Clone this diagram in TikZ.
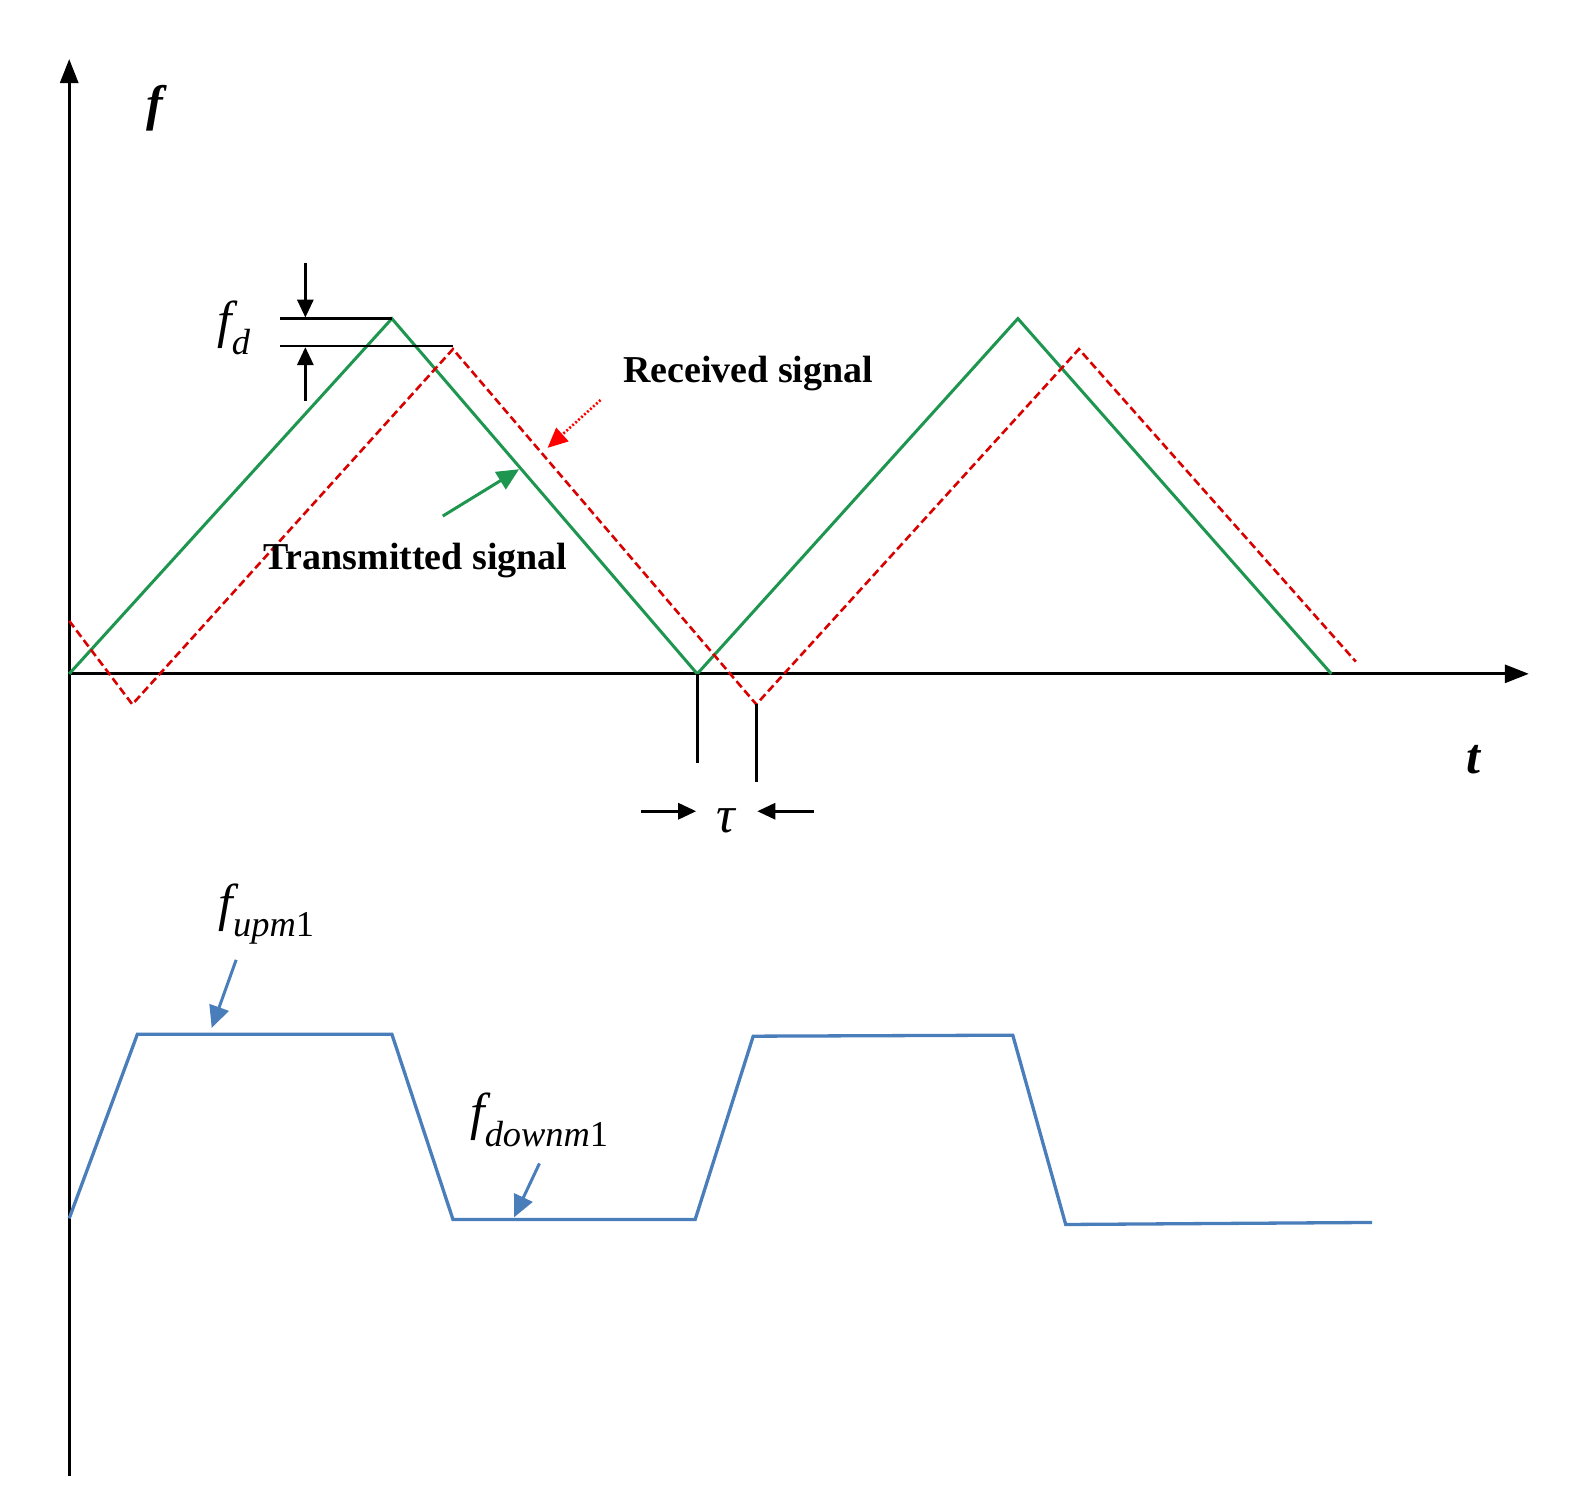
\documentclass[tikz,border=0pt]{standalone}
\usepackage{fontspec}
\setmainfont{Liberation Serif}
\usetikzlibrary{arrows.meta}
\definecolor{grn}{RGB}{30,150,80}
\definecolor{blu}{RGB}{74,126,187}
\begin{document}
\begin{tikzpicture}[x=1.018pt,y=-1.018pt,
  ax/.style={line width=3pt,-{Triangle[length=24pt,width=18pt]}},
  tx/.style={grn,line width=3pt},
  rx/.style={red!85!black,line width=2.6pt,dash pattern=on 8pt off 4pt},
  bl/.style={blu,line width=3.3pt},
  blk/.style={line width=2.8pt},
  arr/.style={line width=3pt,-{Triangle[length=18pt,width=16pt]}},
  lbl/.style={font=\fontsize{38}{44}\selectfont\bfseries},
  ml/.style={font=\fontsize{52}{54}\selectfont\itshape}]
\useasboundingbox (0,0) rectangle (1568,1477);
\coordinate (o) at (68,662);
\coordinate (ytop) at (68,58);
\coordinate (ybot) at (68,1450);
\coordinate (xend) at (1502,662);
\draw[ax] (ybot) -- (ytop);
\draw[ax] (o) -- (xend);
\node[font=\fontsize{50}{52}\selectfont\bfseries\itshape] (fl) at (152,106) {f};
\node[font=\fontsize{50}{52}\selectfont\bfseries\itshape] (tl) at (1448,746) {t};
\draw[tx] (68,662) -- (385,313) -- (685,662) -- (1000,313) -- (1308,662);
\draw[rx] (68,610) -- (130,692) -- (445,343) -- (743,692) -- (1060,343) -- (1332,650);
\coordinate (a1) at (275,313); \coordinate (a2) at (385,313);
\coordinate (b1) at (275,340); \coordinate (b2) at (445,340);
\draw[blk] (a1) -- (a2); \draw[blk] (b1) -- (b2);
\coordinate (fa) at (300,258); \coordinate (fa2) at (300,312);
\coordinate (fb) at (300,394); \coordinate (fb2) at (300,341);
\draw[arr] (fa) -- (fa2); \draw[arr] (fb) -- (fb2);
\node[ml] (fd) at (230,322) {f\textsubscript{d}};
\coordinate (t1) at (685,662); \coordinate (t1b) at (685,750);
\coordinate (t2) at (743,692); \coordinate (t2b) at (743,768);
\draw[blk] (t1) -- (t1b); \draw[blk] (t2) -- (t2b);
\coordinate (ta) at (630,797); \coordinate (ta2) at (684,797);
\coordinate (tb) at (800,797); \coordinate (tb2) at (744,797);
\draw[arr] (ta) -- (ta2); \draw[arr] (tb) -- (tb2);
\node[ml] (tau) at (713,806) {τ};
\node[lbl] (rs) at (735,367) {Received signal};
\coordinate (r1) at (590,393); \coordinate (r2) at (538,440);
\draw[red,line width=2.6pt,dash pattern=on 2pt off 2pt,-{Triangle[length=20pt,width=18pt]}] (r1) -- (r2);
\node[lbl] (ts) at (408,551) {Transmitted signal};
\coordinate (g1) at (435,507); \coordinate (g2) at (510,461);
\draw[grn,line width=3pt,-{Triangle[length=22pt,width=20pt]}] (g1) -- (g2);
\draw[bl] (68,1197) -- (135,1016) -- (385,1016) -- (445,1198) -- (683,1198) -- (740,1018) -- (995,1017) -- (1047,1203) -- (1348,1201);
\node[ml] (fu) at (262,898) {f\textsubscript{upm\upshape 1}};
\coordinate (u1) at (232,943); \coordinate (u2) at (208,1010);
\draw[blu,line width=3pt,-{Triangle[length=22pt,width=20pt]}] (u1) -- (u2);
\node[ml] (fdn) at (530,1100) {f\textsubscript{downm\upshape 1}};
\coordinate (d1) at (530,1143); \coordinate (d2) at (505,1196);
\draw[blu,line width=3pt,-{Triangle[length=22pt,width=20pt]}] (d1) -- (d2);
\end{tikzpicture}
\end{document}
